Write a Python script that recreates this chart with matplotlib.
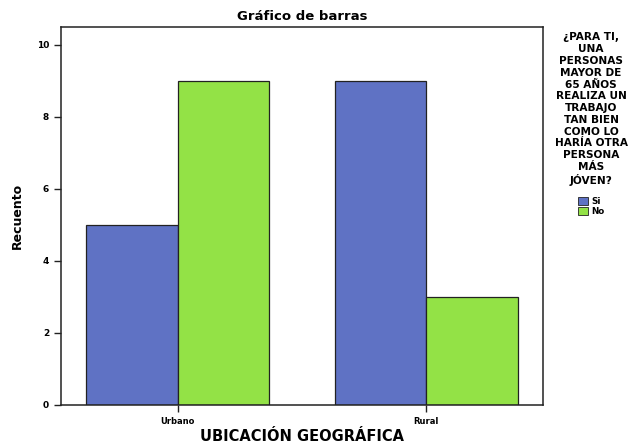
import matplotlib
matplotlib.use("Agg")
import matplotlib.pyplot as plt
import numpy as np
from matplotlib.patches import Patch

categories = ["Urbano", "Rural"]
series_names = ["Si", "No"]
si_values = [5, 9]
no_values = [9, 3]
yticks = [0, 2, 4, 6, 8, 10]

blue = "#5f72c4"
green = "#93e246"

fig = plt.figure(figsize=(6.39, 4.46), dpi=100)
ax = fig.add_axes([0.0955, 0.092, 0.7545, 0.8475])

x = np.arange(len(categories))
w = 0.368
ax.bar(x - w / 2, si_values, w, color=blue, edgecolor="#222222", linewidth=0.9)
ax.bar(x + w / 2, no_values, w, color=green, edgecolor="#222222", linewidth=0.9)

ax.set_xlim(-0.47, 1.47)
ax.set_ylim(0, 10.5)
ax.set_xticks(x)
ax.set_xticklabels(categories, fontsize=6, fontweight="bold")
ax.set_yticks(yticks)
ax.set_yticklabels([str(t) for t in yticks], fontsize=6.5, fontweight="bold")
ax.tick_params(axis="both", length=5, width=1, color="#222222")
for s in ax.spines.values():
    s.set_linewidth(1.1)
    s.set_color("#222222")

ax.set_title("Gráfico de barras", fontsize=9.5, fontweight="bold", pad=5)
ax.set_ylabel("Recuento", fontsize=9, fontweight="bold", labelpad=9)
ax.set_xlabel("UBICACIÓN GEOGRÁFICA", fontsize=10.5, fontweight="bold", labelpad=2)

legend_title = ("¿PARA TI,\nUNA\nPERSONAS\nMAYOR DE\n65 AÑOS\nREALIZA UN\nTRABAJO\nTAN BIEN\nCOMO LO\nHARÍA OTRA\nPERSONA\nMÁS\nJÓVEN?")
handles = [Patch(facecolor=blue, edgecolor="#222222", linewidth=0.6),
           Patch(facecolor=green, edgecolor="#222222", linewidth=0.6)]
leg = fig.legend(handles, series_names, loc="upper center",
                 bbox_to_anchor=(0.925, 0.945), frameon=False,
                 title=legend_title, fontsize=6.3, handlelength=1.2,
                 handleheight=1.0, handletextpad=0.3, labelspacing=0.1,
                 title_fontproperties={"size": 7.6, "weight": "bold"})
leg.get_title().set_multialignment("center")
leg.get_title().set_linespacing(1.22)
leg._legend_box.sep = 8
for t in leg.get_texts():
    t.set_fontweight("bold")

fig.savefig("out.png", dpi=100)
